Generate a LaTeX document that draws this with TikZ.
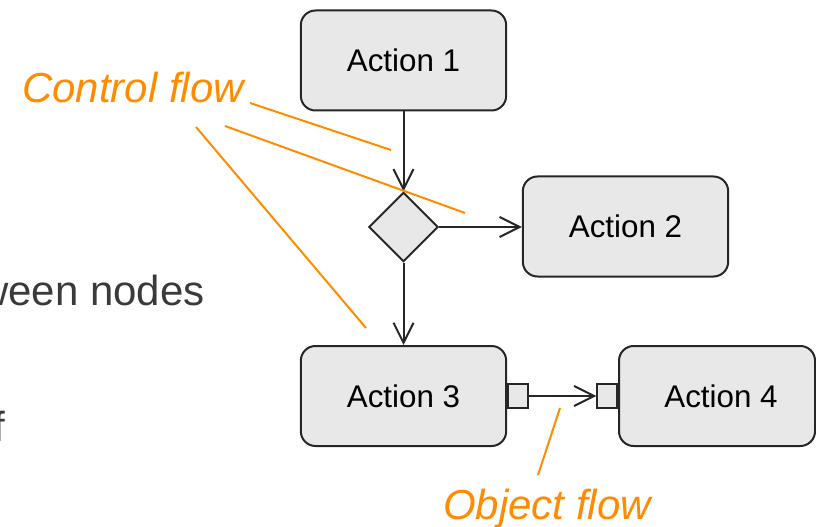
\documentclass[tikz,border=0pt]{standalone}
\usepackage{fontspec}
\setmainfont{Liberation Sans}
\usetikzlibrary{arrows.meta,shapes.geometric}
\definecolor{boxgray}{HTML}{E8E8E8}
\definecolor{linegray}{HTML}{262626}
\definecolor{noteorange}{HTML}{FF8C00}
\definecolor{textgray}{HTML}{3A3A3A}
\tikzset{
 action/.style={draw=linegray,fill=boxgray,line width=1.5pt,rounded corners=11pt,minimum width=154pt,minimum height=75pt,inner sep=0pt,font=\fontsize{23.5}{28}\selectfont},
 decision/.style={draw=linegray,fill=boxgray,line width=1.5pt,diamond,shape aspect=1,minimum width=52pt,minimum height=52pt,inner sep=0pt},
 pinbox/.style={draw=linegray,fill=boxgray,line width=1.3pt,minimum width=15pt,minimum height=17.5pt,inner sep=0pt},
 flow/.style={draw=linegray,line width=1.5pt,-{Straight Barb[length=15pt,width=15pt,line width=1.5pt]}},
 note/.style={font=\fontsize{31.5}{36}\selectfont\itshape,text=noteorange,inner sep=0pt},
 pointer/.style={draw=noteorange,line width=1.5pt},
 bullet/.style={font=\fontsize{31.5}{36}\selectfont,text=textgray,inner sep=0pt}
}
\begin{document}
\begin{tikzpicture}[x=0.75pt,y=-0.75pt]
 \useasboundingbox (0,0) rectangle (816,527);
 \node[bullet,anchor=base east] (txt1) at (205,305) {ween nodes};
 \node[bullet,anchor=base east] (txt2) at (5,441) {f};
 \node[action] (act1) at (403.5,60.5) {Action 1};
 \node[decision] (dec) at (403.5,227) {};
 \node[action] (act2) at (625.5,226.5) {Action 2};
 \node[action] (act3) at (403.5,396) {Action 3};
 \node[action,minimum width=147pt] (act4) at (717,396) {\hspace*{6pt}Action 4};
 \node[pinbox,anchor=west] (out3) at (act3.east) {};
 \node[pinbox,anchor=east] (in4) at (act4.west) {};
 \draw[flow] (act1) -- (dec);
 \draw[flow] (dec.east) -- (dec.east -| act2.west);
 \draw[flow] (dec) -- (act3);
 \draw[flow] (out3) -- (in4);
 \node[note,anchor=base west] (ctrl) at (22,103) {Control flow};
 \node[note,anchor=base west] (obj) at (443,519) {Object flow};
 \coordinate (cf1) at (250,103);
 \coordinate (cf1e) at (391,150);
 \coordinate (cf2) at (225,126);
 \coordinate (cf2e) at (465,213);
 \coordinate (cf3) at (196,127);
 \coordinate (cf3e) at (366,328);
 \coordinate (of1) at (538,475);
 \coordinate (of1e) at (560,408);
 \draw[pointer] (cf1) -- (cf1e);
 \draw[pointer] (cf2) -- (cf2e);
 \draw[pointer] (cf3) -- (cf3e);
 \draw[pointer] (of1) -- (of1e);
\end{tikzpicture}
\end{document}
